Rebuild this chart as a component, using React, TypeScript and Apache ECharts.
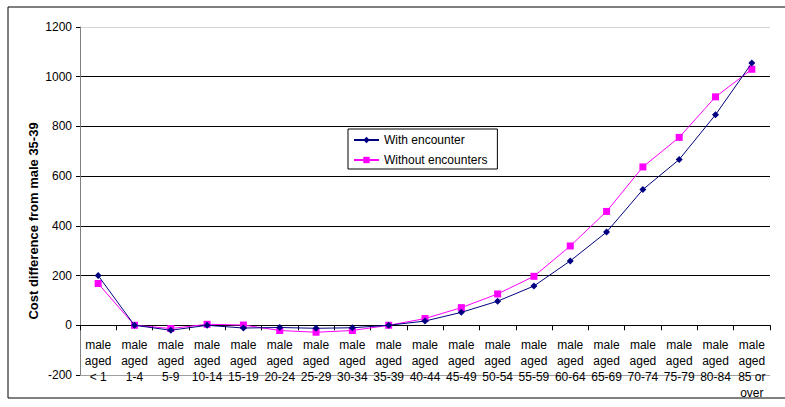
import React, { useEffect, useRef } from "react";
import * as echarts from "echarts";

const categories = [
  "male\naged\n< 1", "male\naged\n1-4", "male\naged\n5-9", "male\naged\n10-14",
  "male\naged\n15-19", "male\naged\n20-24", "male\naged\n25-29", "male\naged\n30-34",
  "male\naged\n35-39", "male\naged\n40-44", "male\naged\n45-49", "male\naged\n50-54",
  "male\naged\n55-59", "male\naged\n60-64", "male\naged\n65-69", "male\naged\n70-74",
  "male\naged\n75-79", "male\naged\n80-84", "male\naged\n85 or\nover",
];
const withEncounter = [200, 0, -20, 0, -11, -9, -12, -10, 0, 17, 52, 97, 158, 259, 375, 546, 667, 847, 1055];
const withoutEncounters = [168, 0, -13, 4, 1, -21, -28, -21, 0, 27, 71, 126, 197, 319, 458, 637, 756, 919, 1030];
const seriesNames = ["With encounter", "Without encounters"];
const yTitle = "Cost difference from male 35-39";

const FONT = "Liberation Sans, Arial, sans-serif";

export default function App() {
  const ref = useRef<HTMLDivElement>(null);
  useEffect(() => {
    if (!ref.current) return;
    const chart = echarts.init(ref.current, null, { renderer: "svg" });
    chart.setOption({
      animation: false,
      backgroundColor: "#fff",
      textStyle: { fontFamily: FONT },
      grid: {
        left: 80, top: 27, right: 15, bottom: 32,
        containLabel: false,
        outerBoundsMode: "none",
      },
      legend: {
        orient: "vertical",
        left: 348,
        top: 129,
        padding: [4, 10, 2, 5],
        itemGap: 6,
        itemWidth: 25,
        itemHeight: 8,
        borderColor: "#000",
        borderWidth: 1,
        backgroundColor: "#fff",
        textStyle: { fontSize: 12, color: "#000", fontFamily: FONT, lineHeight: 14 },
        data: seriesNames,
      },
      xAxis: {
        type: "category",
        data: categories,
        boundaryGap: true,
        axisLine: { onZero: true, lineStyle: { color: "#000", width: 1 } },
        axisTick: { show: true, length: 5, lineStyle: { color: "#000" } },
        axisLabel: {
          interval: 0,
          margin: -38,
          fontSize: 12,
          lineHeight: 16,
          color: "#000",
          fontFamily: FONT,
          verticalAlign: "top",
        },
        splitLine: { show: false },
      },
      yAxis: {
        type: "value",
        min: -200,
        max: 1200,
        interval: 200,
        axisLine: { show: true, lineStyle: { color: "#808080", width: 1 } },
        axisTick: { show: true, length: 4, lineStyle: { color: "#000" } },
        axisLabel: {
          fontSize: 12, color: "#000", margin: 8, fontFamily: FONT,
          formatter: (v: number) => String(v),
        },
        splitLine: {
          show: true,
          lineStyle: {
            color: ["#a0a0a0", "#000", "#000", "#000", "#000", "#000", "#000", "#d4d4d4"],
            width: 1,
          },
        },
      },
      series: [
        {
          name: seriesNames[0],
          type: "line",
          data: withEncounter,
          symbol: "diamond",
          symbolSize: 7,
          color: "#000080",
          lineStyle: { width: 1, color: "#000080" },
          itemStyle: { color: "#000080" },
          z: 3,
        },
        {
          name: seriesNames[1],
          type: "line",
          data: withoutEncounters,
          symbol: "rect",
          symbolSize: 7,
          color: "#FF00FF",
          lineStyle: { width: 1, color: "#FF00FF" },
          itemStyle: { color: "#FF00FF" },
          z: 2,
        },
      ],
      graphic: [
        {
          type: "rect",
          shape: { x: 8, y: 7, width: 800, height: 391 },
          style: { fill: "none", stroke: "#000", lineWidth: 1 },
          silent: true,
          z: -1,
        },
        {
          type: "text",
          x: 33,
          y: 221,
          rotation: Math.PI / 2,
          style: {
            text: yTitle,
            font: "bold 13px " + FONT,
            fill: "#000",
            textAlign: "center",
            textVerticalAlign: "middle",
          },
        },
      ],
    });
    return () => chart.dispose();
  }, []);
  return (
    <div
      ref={ref}
      style={{ position: "fixed", left: 0, top: 0, width: 785, height: 407 }}
    />
  );
}
